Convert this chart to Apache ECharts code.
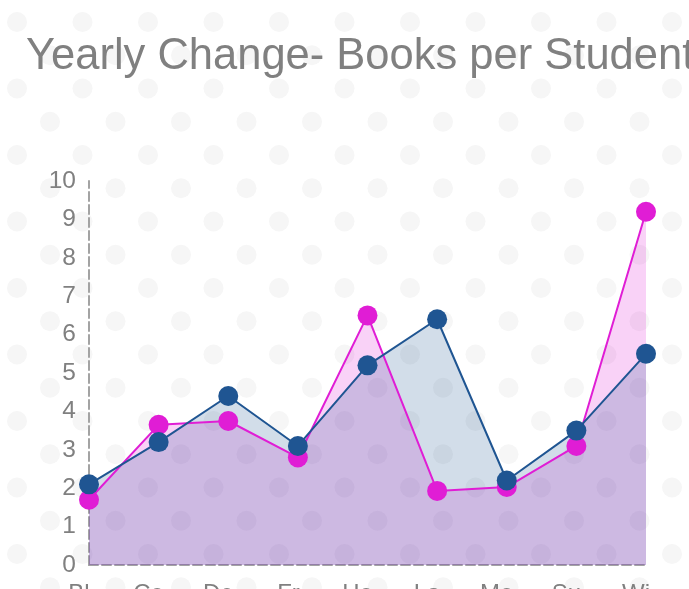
<!DOCTYPE html>
<html>
<head>
<meta charset="utf-8">
<title>Yearly Change- Books per Student</title>
<script src="https://cdn.jsdelivr.net/npm/echarts@6/dist/echarts.min.js"></script>
<style>
	html, body { margin: 0; padding: 0; overflow: hidden; background: #fff; }
	#chart { width: 689px; height: 589px; }
</style>
</head>
<body>
<div id="chart"></div>
<script>
var categories = ['Bl...', 'Co...', 'De...', 'Fr...', 'Ho...', 'La...', 'Mo...', 'Su...', 'Wi...'];
var pinkValues = [1.7, 3.65, 3.75, 2.8, 6.5, 1.93, 2.03, 3.1, 9.2];
var blueValues = [2.1, 3.2, 4.4, 3.1, 5.2, 6.4, 2.2, 3.5, 5.5];
var yMin = 0, yMax = 10, yStep = 1;

// dotted background tile (two periods each way)
function dotTile() {
	var c = document.createElement('canvas');
	c.width = 131;
	c.height = 133;
	var ctx = c.getContext('2d');
	ctx.fillStyle = '#fff';
	ctx.fillRect(0, 0, c.width, c.height);
	ctx.fillStyle = '#f6f6f6';
	var pts = [
		[17, 22], [82.5, 22], [17, 88.5], [82.5, 88.5],
		[50, 55.25], [115.5, 55.25], [50, 121.75], [115.5, 121.75]
	];
	pts.forEach(function (p) {
		ctx.beginPath();
		ctx.arc(p[0], p[1], 10, 0, Math.PI * 2);
		ctx.fill();
	});
	return c;
}

var gray = '#808080';
var pink = '#e01dd5';
var blue = '#1f5592';

var chart = echarts.init(document.getElementById('chart'));
chart.setOption({
	backgroundColor: { image: dotTile(), repeat: 'repeat' },
	animation: false,
	title: {
		text: 'Yearly Change- Books per Student',
		left: 21,
		top: 30,
		textStyle: { color: gray, fontSize: 43.5, fontWeight: 'normal', fontFamily: 'Liberation Sans' }
	},
	grid: { left: 89, right: 43, top: 181, bottom: 24, containLabel: false, outerBoundsMode: 'none' },
	xAxis: {
		type: 'category',
		boundaryGap: false,
		data: categories,
		axisLine: { lineStyle: { color: '#a3a3a3', width: 2, type: [9, 4] } },
		axisTick: { show: false },
		axisLabel: { color: gray, fontSize: 24, fontFamily: 'Liberation Sans', margin: 17, interval: 0 },
		splitLine: { show: false }
	},
	yAxis: {
		type: 'value',
		min: yMin,
		max: yMax,
		interval: yStep,
		axisLine: { show: true, lineStyle: { color: '#a3a3a3', width: 2, type: [9, 4] } },
		axisTick: { show: false },
		axisLabel: { color: gray, fontSize: 24.5, fontFamily: 'Liberation Sans', margin: 13 },
		splitLine: { show: false }
	},
	series: [
		{
			name: 'Pink',
			type: 'line',
			data: pinkValues,
			symbol: 'circle',
			symbolSize: 20,
			lineStyle: { color: pink, width: 2 },
			itemStyle: { color: pink },
			areaStyle: { color: pink, opacity: 0.2 }
		},
		{
			name: 'Blue',
			type: 'line',
			data: blueValues,
			symbol: 'circle',
			symbolSize: 20,
			lineStyle: { color: blue, width: 2 },
			itemStyle: { color: blue },
			areaStyle: { color: blue, opacity: 0.2 }
		}
	]
});
</script>
</body>
</html>
